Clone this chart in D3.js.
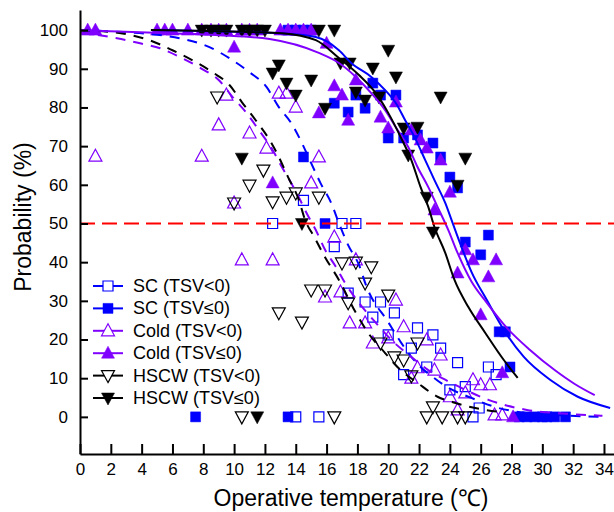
<!DOCTYPE html>
<html lang="en">
<head>
<meta charset="UTF-8">
<title>Probability vs operative temperature</title>
<script src="https://cdn.jsdelivr.net/npm/d3@7"></script>
<style>
  body { margin: 0; background: #fff; }
  text { font-family: "Liberation Sans", Arial, sans-serif; }
</style>
</head>
<body>
<div id="chart"></div>
<script>
// ---- data: [temperature, probability %] ----
var scOpen = [[12.5,50],[14.5,56],[16.5,44],[17.0,50],[17.9,50],[17.4,32],[18.5,29.7],[19.5,29.7],
  [19.0,25.8],[20.4,26.9],[20.0,21.2],[21.9,23],[22.9,21.2],[21.5,17.8],[23.4,17.8],[22.5,12.9],
  [21.0,10.9],[24.5,14],[26.5,12.9],[27.0,10.9],[24.0,7.0],[25.0,7.8],[25.9,2.3],[25.5,0],[14.0,0],[15.5,0]];
var scFilled = [[13.5,100],[14,100],[14.5,100],[15,100],[14.5,67.2],[15.9,50],[16.5,81.1],[17.4,78.8],
  [17.9,83.2],[18.5,79.8],[19.0,86.3],[19.5,83.2],[20.5,83.2],[20.0,72.1],[21.0,72.1],[21.9,72.9],
  [22.9,70.8],[23.4,67.2],[24.0,62],[24.5,59.2],[26.5,47.0],[25.0,45.2],[26.0,41.9],[27.2,22],[27.6,22],
  [27.9,12.9],[7.5,0],[13.5,0],[28.5,0],[29,0],[29.5,0],[30,0],[30.3,0],[30.8,0],[31.5,0]];
var coldOpen = [[1.0,67.4],[7.9,67.4],[9.0,75.5],[9.5,83.2],[10.0,55.3],[11.0,73.4],[12.1,69.5],
  [12.9,83.7],[13.4,83.7],[14.0,80.1],[15.0,60.5],[15.5,67.2],[10.5,40.6],[12.5,40.6],[16.5,46.5],
  [17.9,40.6],[15.9,31],[16.9,32.3],[17.5,24.3],[18.5,24.3],[20.5,30.2],[21.0,23.3],[19.0,19.1],
  [20.0,20.4],[22.5,19.9],[23.4,16.0],[21.9,12.7],[23.0,12.1],[21.5,10.0],[25.5,9.6],[26.0,8.3],
  [26.6,8.3],[25.0,6.2],[24.0,5.2],[24.5,1.8],[26.9,0.5],[27.4,0.5]];
var coldFilled = [[0.5,100],[1.0,100],[5.0,100],[5.5,100],[6.0,100],[7.0,100],[7.9,100],[8.5,100],
  [9.0,100],[9.5,100],[10.5,100],[11.0,100],[11.5,100],[13.0,100],[13.5,100],[14.0,100],[14.5,100],
  [15.0,100],[10.0,95.6],[16.0,96.6],[16.5,85.6],[17.0,83.2],[17.9,87.1],[15.5,78.6],[17.4,76.7],
  [12.5,60.5],[19.5,77.5],[20.5,81.4],[20.0,74.7],[21.5,74.2],[22.1,71.6],[22.5,69.5],[23.4,66.4],
  [24.0,58.1],[23.0,53.5],[25.0,43.2],[25.5,40.6],[27.0,40.6],[24.5,37.2],[26.5,36.2],[26.0,26.4],
  [27.4,11.4],[28.1,0]];
var hscwOpen = [[8.9,82.7],[10.0,55.3],[11.9,63.8],[11.0,59.9],[12.5,55.6],[13.4,56.8],[14.0,57.9],
  [15.5,56.8],[17.0,39.8],[17.9,40],[18.9,38.8],[15.0,32.8],[15.9,32.8],[17.4,29.5],[18.5,34.6],
  [20.0,31.5],[12.9,26.9],[14.4,24.5],[19.5,19.1],[21.9,19.1],[20.4,15.5],[21.0,14.7],[21.5,10.6],
  [22.9,2.6],[10.5,0],[16.5,0],[22.5,0],[23.5,0],[24.5,0],[25.0,0]];
var hscwFilled = [[7.9,100],[8.5,100],[9.0,100],[9.5,100],[10.5,100],[11.0,100],[11.5,100],[12.0,100],
  [15.5,100],[16.5,100],[12.5,88.9],[12.9,91],[13.4,86.3],[14.0,83.2],[15.0,87.1],[10.5,66.9],
  [15.9,79.8],[16.9,91.5],[17.5,91.5],[19.0,90.2],[20.0,94.8],[20.5,87.9],[17.9,84],[18.5,81.9],
  [19.4,82.7],[23.4,82.7],[21.0,74.7],[21.9,74.9],[21.3,67.7],[25.0,66.9],[24.5,59.9],[22.5,56.8],
  [22.9,47.8],[14.4,50],[11.5,0]];

// fitted curves
var scFitLow = [[0,100],[2.8,99.5],[4.5,99],[6.45,97.9],[8.4,95.6],[9.9,92.2],[11.0,89.1],[12.1,85.3],
  [12.9,80.1],[13.7,76],[14.4,70.8],[15.0,65.6],[15.6,60.5],[16.3,55.3],[16.8,50.1],[17.4,44.4],
  [18.1,39.3],[18.6,33.6],[20.0,24.5],[20.8,19.4],[21.5,15.5],[22.1,12.9],[22.9,10.3],[23.7,8.0],
  [25.4,4.9],[26.9,2.6],[29.0,1.0],[31.8,0.3],[33.9,0]];
var coldFitLow = [[0,99.3],[0.65,99],[2.4,97.9],[3.9,96.6],[5.2,95.3],[6.6,92.8],[7.9,90],[9.0,87.1],
  [9.9,82.7],[10.8,78.6],[11.6,74.2],[12.5,69],[13.1,64.6],[13.7,60.5],[14.2,56.8],[14.7,52.7],
  [15.3,48.3],[15.9,43.2],[16.6,38.8],[17.2,34.6],[18.1,29.5],[19.2,24.3],[20.2,19.9],[21.5,15.5],
  [22.6,12.1],[23.7,9.6],[25.0,7.0],[26.5,4.4],[29,1.8],[31.6,0.8],[33.9,0.3]];
var hscwFitLow = [[0,99.9],[2,99.5],[4.5,97.4],[6.0,94.8],[7.3,92.2],[8.6,89.1],[9.7,85.8],[10.5,81.4],
  [11.4,76.7],[12.3,71.6],[12.9,67.2],[13.5,62],[14.2,56.1],[14.6,51],[15.2,46.5],[15.9,41.3],
  [16.8,35.4],[17.9,26.9],[18.7,21.7],[19.8,16.5],[20.8,12.1],[21.9,8.8],[23.2,5.2],[24.2,3.8],
  [26.0,2.0],[27.5,1.2]];
var scFit = [[5,100],[10,99.6],[13,99.2],[15.3,98.2],[16.8,94.8],[17.6,91.5],[18.9,87.9],[19.8,84.5],
  [20.5,81.1],[21.1,76.7],[21.7,72.4],[22.4,66.4],[23.0,61.2],[23.7,55.3],[24.1,51],[24.7,44.5],
  [25.4,37.5],[26.4,30.2],[27.5,22.5],[28.8,15.5],[30.5,9.6],[32.3,5.2],[34.4,2.3]];
var coldFit = [[0,100],[5.8,99.2],[9.0,98.7],[12.3,97.7],[15.5,94.1],[16.8,91.5],[17.9,87.9],[18.9,83.7],
  [19.8,79.3],[20.6,74.2],[21.3,69.8],[21.9,64.6],[22.6,59.4],[23.2,54.3],[23.9,48.3],[24.5,42.4],
  [25.4,35],[26.4,29.5],[27.7,23],[29.2,17.3],[30.8,12.1],[32.1,8.5],[33.4,5.6]];
var hscwFit = [[4.6,100],[11,99.5],[13.1,99.2],[15.3,97.4],[16.8,92.8],[18.1,88.4],[19.2,83.7],
  [20.0,78.6],[20.8,72.4],[21.5,66.4],[22.1,59.4],[22.6,54.3],[23.0,49.1],[23.7,42.4],[24.3,35.4],
  [25.2,28.4],[26.3,21.7],[27.5,14.7],[28.4,10.1]];

var xTicks = d3.range(0, 35, 2);
var yTicks = d3.range(0, 101, 10);
var legendLabels = ['SC (TSV<0)', 'SC (TSV\u22640)', 'Cold (TSV<0)', 'Cold (TSV\u22640)', 'HSCW (TSV<0)', 'HSCW (TSV\u22640)'];

var width = 614, height = 512;
var blue = '#0000ff', purple = '#8000ff', black = '#000';

var svg = d3.select('#chart').append('svg')
    .attr('width', width).attr('height', height);

var x = d3.scaleLinear().domain([0, 34.65]).range([80, 614]);
var y = d3.scaleLinear().domain([-9.6, 105.2]).range([454, 10]);

// marker shapes
function shape(kind) {
  if (kind == 'square') return 'M-5,-5H5V5H-5Z';
  if (kind == 'up') return 'M0,-7L6.5,5L-6.5,5Z';
  return 'M0,7L6.5,-5L-6.5,-5Z';
}

var series = [
  {data: scOpen,     kind: 'square', color: blue,   filled: false},
  {data: scFilled,   kind: 'square', color: blue,   filled: true},
  {data: coldOpen,   kind: 'up',     color: purple, filled: false},
  {data: coldFilled, kind: 'up',     color: purple, filled: true},
  {data: hscwOpen,   kind: 'down',   color: black,  filled: false},
  {data: hscwFilled, kind: 'down',   color: black,  filled: true}
];

series.forEach(function(s) {
  svg.append('g').selectAll('path')
    .data(s.data)
    .enter().append('path')
    .attr('d', shape(s.kind))
    .attr('transform', function(d) { return 'translate(' + x(d[0]) + ',' + y(d[1]) + ')'; })
    .attr('fill', s.filled ? s.color : 'none')
    .attr('stroke', s.color)
    .attr('stroke-width', s.filled ? 0.5 : 1.2);
});

// fitted curves
var line = d3.line()
    .x(function(d) { return x(d[0]); })
    .y(function(d) { return y(d[1]); })
    .curve(d3.curveMonotoneX);

var fits = [
  {data: scFitLow,   color: blue,   dash: '10,8'},
  {data: coldFitLow, color: purple, dash: '10,8'},
  {data: hscwFitLow, color: black,  dash: '10,8'},
  {data: scFit,      color: blue,   dash: null},
  {data: coldFit,    color: purple, dash: null},
  {data: hscwFit,    color: black,  dash: null}
];
fits.forEach(function(f) {
  svg.append('path')
    .attr('d', line(f.data))
    .attr('fill', 'none')
    .attr('stroke', f.color)
    .attr('stroke-width', 2)
    .attr('stroke-dasharray', f.dash);
});

// 50 % reference
svg.append('line')
  .attr('x1', x(0)).attr('x2', width)
  .attr('y1', y(50)).attr('y2', y(50))
  .attr('stroke', '#ff0000').attr('stroke-width', 2)
  .attr('stroke-dasharray', '15,7');

// axes
var xAxis = d3.axisBottom(x).tickValues(xTicks).tickSizeInner(-10).tickSizeOuter(0).tickPadding(9);
var yAxis = d3.axisLeft(y).tickValues(yTicks).tickSizeInner(-8).tickSizeOuter(0).tickPadding(12);

var xAxisG = svg.append('g').attr('transform', 'translate(0,' + 454 + ')').call(xAxis);
var yAxisG = svg.append('g').attr('transform', 'translate(80,0)').call(yAxis);
[xAxisG, yAxisG].forEach(function(g) {
  g.select('.domain').attr('stroke-width', 2);
  g.selectAll('.tick line').attr('stroke-width', 2);
  g.selectAll('.tick text').attr('font-size', 17).attr('font-family', '"Liberation Sans", Arial, sans-serif').attr('fill', '#000');
});

svg.append('text')
  .attr('x', 351).attr('y', 506)
  .attr('text-anchor', 'middle')
  .attr('font-size', 23)
  .text('Operative temperature (\u2103)');

svg.append('text')
  .attr('transform', 'translate(31,217) rotate(-90)')
  .attr('text-anchor', 'middle')
  .attr('font-size', 23)
  .text('Probability (%)');

// legend
var legend = svg.append('g');
legendLabels.forEach(function(label, i) {
  var s = series[i];
  var ly = 286 + i * 22.4;
  legend.append('line')
    .attr('x1', 93).attr('x2', 123).attr('y1', ly).attr('y2', ly)
    .attr('stroke', s.color).attr('stroke-width', 2);
  legend.append('path')
    .attr('d', shape(s.kind))
    .attr('transform', 'translate(108,' + ly + ')')
    .attr('fill', s.filled ? s.color : '#fff')
    .attr('stroke', s.color)
    .attr('stroke-width', s.filled ? 0.5 : 1.2);
  legend.append('text')
    .attr('x', 133).attr('y', ly + 6)
    .attr('font-size', 18)
    .text(label);
});
</script>
</body>
</html>
